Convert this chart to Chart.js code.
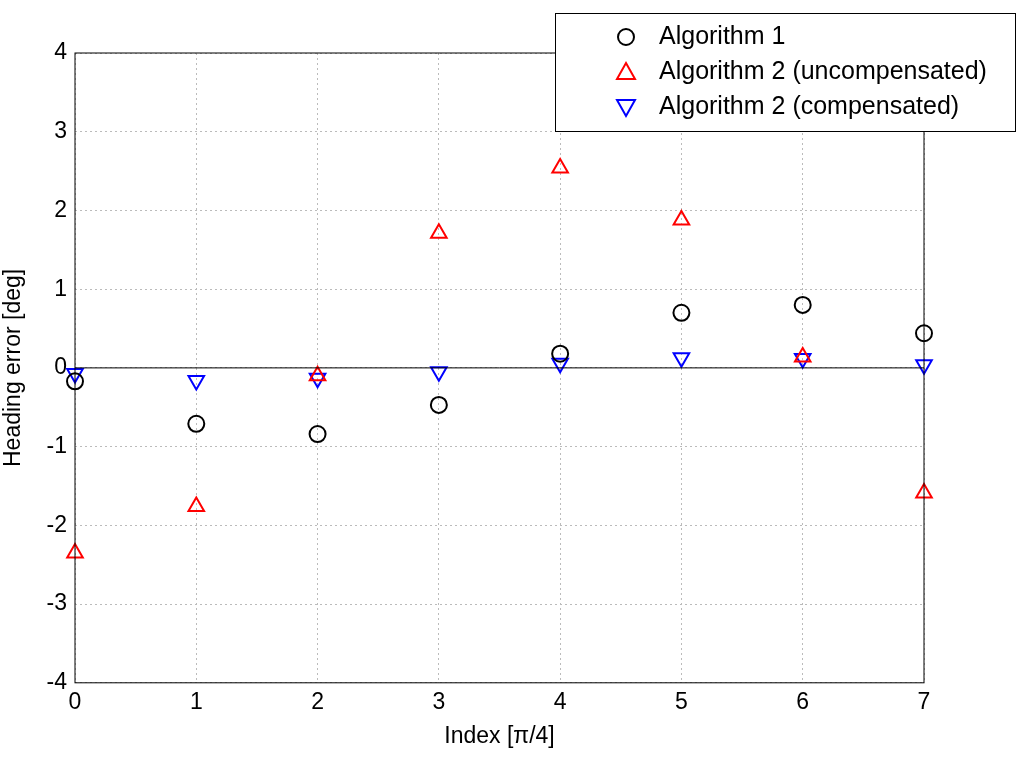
<!DOCTYPE html>
<html><head><meta charset="utf-8">
<script src="https://cdn.jsdelivr.net/npm/chart.js@4"></script>
<style>body{margin:0;background:#fff}#wrap{width:1024px;height:764px}</style>
</head><body><div id="wrap"><canvas id="c"></canvas></div>
<script>
const indices = [0, 1, 2, 3, 4, 5, 6, 7];
const alg1 = [-0.17, -0.71, -0.84, -0.47, 0.18, 0.70, 0.80, 0.44];
const alg2Uncomp = [-2.35, -1.76, -0.10, 1.71, 2.54, 1.88, 0.14, -1.59];
const alg2Comp = [-0.07, -0.16, -0.13, -0.05, 0.06, 0.13, 0.12, 0.04];
const yTicks = [-4, -3, -2, -1, 0, 1, 2, 3, 4];

const pts = arr => arr.map((v, i) => ({x: indices[i], y: v}));
const font = {family: 'Arial, "Liberation Sans", sans-serif', size: 23};

// legend box + zero line + frame
const extras = {
  id: 'extras',
  afterDatasetsDraw(chart) {
    const {ctx, chartArea: a, scales} = chart;
    ctx.save();
    ctx.strokeStyle = '#000'; ctx.lineWidth = 1;
    const y0 = scales.y.getPixelForValue(0);
    ctx.beginPath(); ctx.moveTo(a.left, y0); ctx.lineTo(a.right, y0); ctx.stroke();
    ctx.strokeRect(a.left, a.top, a.right - a.left, a.bottom - a.top);
    // legend
    ctx.fillStyle = '#fff';
    ctx.fillRect(555, 13, 460, 118);
    ctx.strokeRect(555.5, 13.5, 460, 118);
    const items = [['Algorithm 1', '#000', 'c'], ['Algorithm 2 (uncompensated)', '#f00', 'u'], ['Algorithm 2 (compensated)', '#00f', 'd']];
    ctx.font = '25px Arial, "Liberation Sans", sans-serif';
    ctx.textBaseline = 'middle';
    items.forEach((it, i) => {
      const y = 37 + i * 35, x = 626;
      ctx.strokeStyle = it[1]; ctx.lineWidth = 2;
      ctx.beginPath();
      if (it[2] === 'c') ctx.arc(x, y, 8, 0, 2 * Math.PI);
      else if (it[2] === 'u') { ctx.moveTo(x, y - 9); ctx.lineTo(x + 9, y + 7); ctx.lineTo(x - 9, y + 7); ctx.closePath(); }
      else { ctx.moveTo(x, y + 9); ctx.lineTo(x + 9, y - 7); ctx.lineTo(x - 9, y - 7); ctx.closePath(); }
      ctx.stroke();
      ctx.fillStyle = '#000';
      ctx.fillText(it[0], 659, y);
    });
    ctx.restore();
  }
};

new Chart(document.getElementById('c'), {
  type: 'scatter',
  data: {
    datasets: [
      {label: 'Algorithm 1', data: pts(alg1), pointStyle: 'circle', radius: 8, borderColor: '#000', backgroundColor: 'transparent', borderWidth: 2, clip: false},
      {label: 'Algorithm 2 (uncompensated)', data: pts(alg2Uncomp), pointStyle: 'triangle', radius: 9, borderColor: '#f00', backgroundColor: 'transparent', borderWidth: 2, clip: false},
      {label: 'Algorithm 2 (compensated)', data: pts(alg2Comp), pointStyle: 'triangle', rotation: 180, radius: 9, borderColor: '#00f', backgroundColor: 'transparent', borderWidth: 2, clip: false}
    ]
  },
  options: {
    responsive: true, maintainAspectRatio: false, animation: false,
    layout: {padding: {top: 53, right: 100, left: 0, bottom: 14}},
    plugins: {legend: {display: false}, tooltip: {enabled: false}},
    scales: {
      x: {
        type: 'linear', min: 0, max: 7,
        ticks: {stepSize: 1, color: '#000', font: font, padding: 6},
        grid: {color: '#bbb', tickLength: 0},
        border: {dash: [2, 3], display: false},
        title: {display: true, text: 'Index [π/4]', color: '#000', font: font, padding: 0}
      },
      y: {
        min: -4, max: 4,
        afterFit(s) { s.width = 75; },
        afterBuildTicks(s) { s.ticks = yTicks.map(v => ({value: v})); },
        ticks: {color: '#000', font: font, padding: 8},
        grid: {color: '#bbb', tickLength: 0},
        border: {dash: [2, 3], display: false},
        title: {display: true, text: 'Heading error [deg]', color: '#000', font: font, padding: 0}
      }
    }
  },
  plugins: [extras]
});
</script></body></html>
